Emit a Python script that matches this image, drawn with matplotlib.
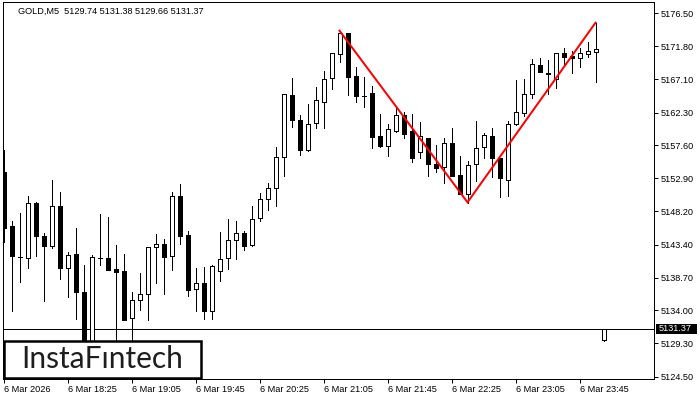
import matplotlib
matplotlib.use("Agg")
import matplotlib.pyplot as plt
from matplotlib.patches import Rectangle

plt.rcParams["font.family"] = ["Liberation Sans", "DejaVu Sans"]

symbol = "GOLD,M5"
opens = [5153.76, 5146.03, 5141.59, 5141.45, 5149.37, 5144.60, 5143.25, 5148.89, 5140.02, 5142.07,
         5136.58, 5129.00, 5141.49, 5141.49, 5139.92, 5139.63, 5132.86, 5135.44, 5136.30, 5143.02,
         5143.45, 5141.74, 5150.33, 5144.79, 5137.01, 5137.87, 5133.95, 5139.59, 5141.45, 5144.03,
         5145.03, 5143.31, 5147.18, 5149.90, 5151.47, 5155.91, 5164.79, 5161.25, 5157.00, 5160.78,
         5163.78, 5167.22, 5170.66, 5173.66, 5167.55, 5164.73, 5165.11, 5158.92, 5157.57, 5159.72,
         5161.92, 5159.67, 5156.63, 5158.63, 5154.95, 5154.48, 5157.91, 5153.38, 5150.70, 5154.91,
         5157.34, 5158.92, 5155.77, 5152.70, 5160.63, 5162.21, 5164.93, 5169.08, 5167.98, 5167.16,
         5170.84, 5170.37, 5170.08, 5170.66, 5171.03, 5129.74]
highs = [5156.95, 5146.79, 5147.94, 5150.37, 5149.55, 5145.03, 5152.66, 5150.94, 5142.35, 5145.79,
         5140.49, 5141.88, 5147.79, 5147.36, 5143.35, 5142.07, 5136.58, 5139.35, 5143.05, 5144.93,
         5144.21, 5150.90, 5152.09, 5145.36, 5140.06, 5140.20, 5140.49, 5145.22, 5147.08, 5146.79,
         5145.32, 5148.94, 5150.80, 5152.23, 5157.38, 5164.96, 5167.22, 5161.92, 5163.50, 5165.93,
         5168.22, 5170.84, 5174.03, 5173.70, 5168.79, 5167.45, 5166.12, 5162.07, 5160.63, 5163.07,
         5162.35, 5162.07, 5160.92, 5158.66, 5157.63, 5158.63, 5160.06, 5156.14, 5155.38, 5161.11,
         5159.35, 5160.10, 5155.80, 5161.11, 5166.98, 5167.12, 5169.94, 5170.08, 5169.80, 5170.83,
         5171.56, 5171.08, 5171.56, 5172.37, 5175.18, 5131.38]
lows = [5143.83, 5133.91, 5138.10, 5140.10, 5141.82, 5135.38, 5142.97, 5138.53, 5135.95, 5132.80,
        5127.00, 5127.50, 5140.53, 5139.75, 5128.50, 5132.60, 5129.00, 5134.09, 5132.66, 5137.96,
        5136.38, 5139.82, 5143.54, 5136.10, 5133.95, 5132.80, 5132.72, 5138.24, 5139.96, 5141.39,
        5142.68, 5143.28, 5146.75, 5148.41, 5148.98, 5153.28, 5160.29, 5156.28, 5156.85, 5160.15,
        5160.15, 5165.73, 5169.60, 5164.87, 5163.87, 5163.07, 5157.28, 5157.43, 5156.14, 5159.49,
        5158.72, 5155.28, 5155.85, 5153.28, 5153.85, 5152.27, 5153.25, 5150.67, 5149.41, 5152.56,
        5155.77, 5153.05, 5150.27, 5150.41, 5160.60, 5161.86, 5164.44, 5168.05, 5164.97, 5165.87,
        5169.02, 5168.02, 5168.88, 5170.23, 5166.65, 5129.66]
closes = [5145.83, 5141.82, 5141.59, 5149.37, 5144.69, 5143.25, 5148.89, 5140.02, 5141.88, 5136.67,
          5128.50, 5141.59, 5141.49, 5139.82, 5139.53, 5132.66, 5135.44, 5136.30, 5143.02, 5143.45,
          5141.68, 5150.33, 5144.69, 5136.95, 5137.87, 5133.95, 5140.30, 5141.31, 5144.03, 5145.03,
          5143.25, 5147.03, 5149.90, 5151.47, 5155.91, 5164.93, 5161.21, 5157.00, 5160.63, 5164.07,
          5167.08, 5170.80, 5173.66, 5167.45, 5164.73, 5164.73, 5158.86, 5157.57, 5159.92, 5161.92,
          5159.29, 5155.85, 5158.92, 5154.99, 5154.42, 5157.91, 5153.28, 5150.70, 5154.76, 5157.20,
          5159.06, 5155.85, 5152.99, 5160.63, 5162.35, 5164.93, 5169.22, 5168.08, 5167.79, 5170.80,
          5170.31, 5170.08, 5170.80, 5171.08, 5171.46, 5131.37]

x_tick_idx = [0, 8, 16, 24, 32, 40, 48, 56, 64, 72]
x_labels = ["6 Mar 2026", "6 Mar 18:25", "6 Mar 19:05", "6 Mar 19:45", "6 Mar 20:25",
            "6 Mar 21:05", "6 Mar 21:45", "6 Mar 22:25", "6 Mar 23:05", "6 Mar 23:45"]
y_ticks = [5124.50, 5129.30, 5134.00, 5138.70, 5143.40, 5148.20,
           5152.90, 5157.60, 5162.30, 5167.10, 5171.80, 5176.50]
current_price = 5131.37
pattern_idx = [42, 58, 74]
pattern_price = [5174.03, 5149.47, 5175.18]

W, H = 700, 400
fig = plt.figure(figsize=(7, 4), dpi=100)
fig.patch.set_facecolor("white")
ax = fig.add_axes([2.5 / W, (H - 379) / H, (654 - 2.5) / W, (379 - 2.3) / H])
ax.set_facecolor("white")

px = 0.72  # one pixel in points
body_w = 0.5
for i in range(len(opens)):
    o, h, l, c = opens[i], highs[i], lows[i], closes[i]
    ax.vlines(i, l, h, color="black", linewidth=px, zorder=2, antialiased=False)
    bull = c >= o
    bottom = min(o, c)
    height = abs(c - o)
    rect = Rectangle((i - body_w / 2, bottom), body_w, height,
                     facecolor="white" if bull else "black", edgecolor="black",
                     linewidth=px, zorder=3, antialiased=False)
    ax.add_patch(rect)

ax.axhline(current_price, color="black", linewidth=px, zorder=1.5, antialiased=False)
ax.plot(pattern_idx, pattern_price, color="#ff0000", linewidth=1.44, zorder=4,
        solid_joinstyle="miter", antialiased=True)

ax.set_xlim(-0.125, 81.31)
ax.set_ylim(5124.17, 5178.10)

ax.set_xticks(x_tick_idx)
ax.set_xticklabels(x_labels, ha="left")
ax.yaxis.tick_right()
ax.set_yticks(y_ticks)
ax.set_yticklabels([f"{v:.2f}" for v in y_ticks])
ax.tick_params(axis="x", direction="out", length=3, width=px, pad=1.5, labelsize=6.6, colors="black")
ax.tick_params(axis="y", direction="out", length=3, width=px, pad=1.5, labelsize=6.6, colors="black")
for s in ax.spines.values():
    s.set_linewidth(px)
    s.set_color("black")

# title
fig.text(18 / W, 1 - 11 / H, symbol + "  " + " ".join(f"{v:.2f}" for v in
         [opens[-1], highs[-1], lows[-1], closes[-1]]),
         fontsize=6.6, va="center", ha="left", color="black")

# current price label
fig.add_artist(Rectangle((656 / W, 1 - 333.5 / H), 41 / W, 10 / H, transform=fig.transFigure,
                         facecolor="black", edgecolor="none", zorder=10))
fig.text(658.5 / W, 1 - 328.6 / H, f"{current_price:.2f}", fontsize=6.6, color="white",
         va="center", ha="left", zorder=11)

# logo
fig.add_artist(Rectangle((3.5 / W, 1 - 378 / H), 197 / W, 37.5 / H, transform=fig.transFigure,
                         facecolor="white", edgecolor="black", linewidth=1.8, zorder=10))
fig.text(21.5 / W, 1 - 368.5 / H, "InstaF\u0131ntech", fontsize=21.5, family="Lato",
         color="#1e1e1e", va="baseline", ha="left", zorder=11)

fig.savefig("out.png", dpi=100, facecolor="white")
